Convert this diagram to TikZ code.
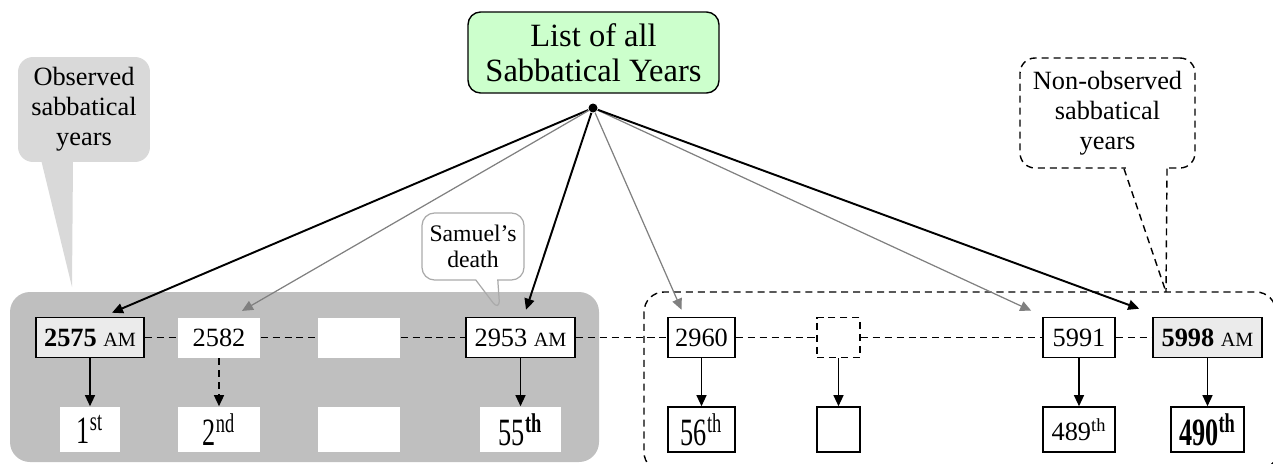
\documentclass[tikz,border=0pt]{standalone}
\usepackage{fontspec}
\setmainfont{Liberation Serif}
\newfontfamily\ordfont[FakeStretch=0.68]{Liberation Serif}
\usetikzlibrary{shapes.callouts,arrows.meta}

\definecolor{titlegreen}{RGB}{204,255,204}
\definecolor{obsgray}{RGB}{191,191,191}
\definecolor{notegray}{RGB}{217,217,217}
\definecolor{markgray}{RGB}{235,235,235}
\definecolor{linegray}{RGB}{128,128,128}
\definecolor{notedraw}{RGB}{170,170,170}

\newcommand{\amtext}{{\fontsize{11.5}{12}\selectfont AM}}

\tikzset{
  yearbox/.style={draw, fill=white, line width=0.9pt, minimum height=0.8cm, inner sep=1pt, font=\fontsize{15}{17}\selectfont},
  hidebox/.style={fill=white, minimum height=0.8cm, inner sep=1pt, font=\fontsize{15}{17}\selectfont},
  ordbox/.style={fill=white, line width=0.9pt, minimum height=0.9cm, inner sep=1pt, font=\ordfont\fontsize{22}{24}\selectfont},
  note/.style={align=center, rounded corners=0.3cm, font=\fontsize{15}{17}\selectfont},
  dashline/.style={dash pattern=on 4pt off 2.8pt, line width=0.8pt}
}

\begin{document}
\begin{tikzpicture}[x=0.02cm, y=-0.02cm, node distance=1.84cm, line width=0.7pt, >={Triangle[length=0.22cm, width=0.2cm]}]
\useasboundingbox (0,0) rectangle (1273,463);
\clip (0,0) rectangle (1273,463);

% the two groups of years
\fill[obsgray, rounded corners=0.4cm] (10,292) rectangle (599,462);
\draw[dashline, rounded corners=0.4cm] (644,292) rectangle (1276,472);

\node (title) [draw, fill=titlegreen, rounded corners=0.25cm, line width=0.8pt, minimum width=5.02cm, minimum height=1.62cm, align=center, font=\fontsize{18.5}{20}\selectfont] at (593.5,52.5) {List of all\\Sabbatical Years};
\node (dot) [circle, fill, inner sep=0pt, minimum size=0.18cm] at (593,108) {};

% callouts
\coordinate (obstip) at (72,287);
\node (observed) [note, fill=notegray, minimum width=2.64cm, minimum height=2.1cm] at (84,109.5) {Observed\\sabbatical\\years};
\fill[notegray] ([xshift=-0.86cm, yshift=0.06cm]observed.south) -- ([xshift=-0.22cm, yshift=0.06cm]observed.south) -- (obstip) -- cycle;

\coordinate (nonobstip) at (1166,292);
\node (nonobserved) [note, draw, dashline, minimum width=3.5cm, minimum height=2.2cm] at (1107.5,113) {Non-observed\\sabbatical\\years};
\fill[white] ([xshift=0.36cm, yshift=0.05cm]nonobserved.south) rectangle ([xshift=1.15cm, yshift=-0.05cm]nonobserved.south);
\draw[dashline] ([xshift=0.33cm]nonobserved.south) -- (nonobstip);
\draw[dashline] ([xshift=1.19cm]nonobserved.south) -- (nonobstip);

\node (samuel) [note, rectangle callout, draw=notedraw, rounded corners=0.25cm, minimum width=2.04cm, minimum height=1.34cm, callout absolute pointer={(500,312)}, callout pointer width=0.44cm, font=\fontsize{13.5}{15}\selectfont] at (473,246.5) {Samuel's\\death};

% years
\node (y2575) [yearbox, fill=markgray, minimum width=2.16cm] at (90,337.5) {\textbf{2575} \amtext};
\node (y2582) [hidebox, minimum width=1.64cm] at (219,337.5) {2582};
\node (ygap) [hidebox, minimum width=1.64cm] at (359,337.5) {};
\node (y2953) [yearbox, minimum width=2.18cm] at (520.5,337.5) {2953 \amtext};
\node (y2960) [yearbox, minimum width=1.34cm] at (701.5,337.5) {2960};
\node (ygap2) [yearbox, dashline, minimum width=0.86cm] at (838.5,337.5) {};
\node (y5991) [yearbox, minimum width=1.44cm] at (1079,337.5) {5991};
\node (y5998) [yearbox, fill=markgray, minimum width=2.18cm] at (1207.5,337.5) {\textbf{5998} \amtext};

% ordinals
\node (o1) [ordbox, minimum width=1.22cm, below of=y2575] {1\textsuperscript{st}};
\node (o2) [ordbox, minimum width=1.64cm, below of=y2582] {2\textsuperscript{nd}};
\node (ogap) [ordbox, minimum width=1.64cm, below of=ygap] {};
\node (o55) [ordbox, minimum width=1.62cm, below of=y2953] {55\textsuperscript{\textbf{th}}};
\node (o56) [ordbox, draw, minimum width=1.34cm, below of=y2960] {56\textsuperscript{th}};
\node (ogap2) [ordbox, draw, minimum width=0.86cm, below of=ygap2] {};
\node (o489) [ordbox, draw, minimum width=1.44cm, font=\fontsize{15}{17}\selectfont, below of=y5991] {489\textsuperscript{th}};
\node (o490) [ordbox, draw, minimum width=1.46cm, below of=y5998] {\textbf{490\textsuperscript{th}}};

% from the list
\draw[->, line width=1.1pt] (dot) -- ([xshift=0.44cm, yshift=0.08cm]y2575.north);
\draw[->, linegray] (dot) -- ([xshift=0.46cm, yshift=0.12cm]y2582.north);
\draw[->, line width=1.1pt] (dot) -- ([xshift=0.11cm, yshift=0.14cm]y2953.north);
\draw[->, linegray] (dot) -- ([xshift=-0.4cm, yshift=0.14cm]y2960.north);
\draw[->, linegray] (dot) -- ([xshift=-0.22cm, yshift=0.12cm]y5991.north west);
\draw[->, line width=1.1pt] (dot) -- ([xshift=-0.26cm, yshift=0.16cm]y5998.north west);

% row of years
\draw[dashline] (y2575) -- (y2582);
\draw[dashline] (y2582) -- (ygap);
\draw[dashline] (ygap) -- (y2953);
\draw[dashline] (y2953) -- (y2960);
\draw[dashline] (y2960) -- (ygap2);
\draw[dashline] (ygap2) -- (y5991);
\draw[dashline] (y5991) -- (y5998);

\draw[->] (y2575) -- (o1);
\draw[->, dashline] (y2582) -- (o2);
\draw[->] (y2953) -- (o55);
\draw[->] (y2960) -- (o56);
\draw[->] (ygap2) -- (ogap2);
\draw[->] (y5991) -- (o489);
\draw[->] (y5998) -- (o490);
\end{tikzpicture}
\end{document}
